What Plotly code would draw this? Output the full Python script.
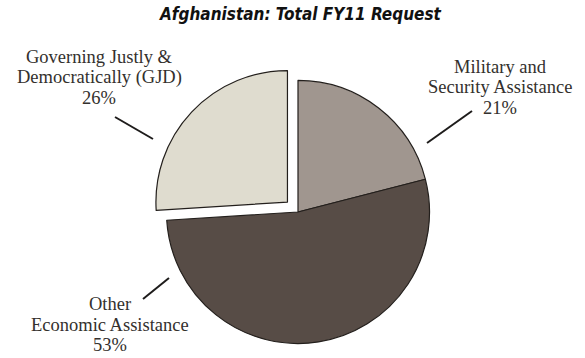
import plotly.graph_objects as go

W, H = 585, 358

# Budget breakdown
categories = ["Military and<br>Security Assistance",
              "Other<br>Economic Assistance",
              "Governing Justly &<br>Democratically (GJD)"]
shares = [21, 53, 26]
colors = ["#a0968f", "#574c46", "#dfdccf"]
pulls = [0, 0, 0.11]


def px(x, y):
    """Pixel position -> paper coordinates."""
    return x / W, 1 - y / H


fig = go.Figure()
fig.add_trace(go.Pie(
    labels=categories,
    values=shares,
    sort=False,
    direction="clockwise",
    rotation=0,
    pull=pulls,
    marker=dict(colors=colors, line=dict(color="#231f1c", width=1.2)),
    textinfo="none",
    hoverinfo="label+percent",
    showlegend=False,
    domain=dict(x=[18 / W, 578 / W], y=[0, 292 / H]),
))

label_font = dict(family="Liberation Serif, Times New Roman, serif", size=18.5, color="#33302d")
LINE_GAP = 20.5

# outside labels: centre x, first-line y, leader line (from, to)
label_layout = [
    (500, 67, (472, 111), (427, 143)),
    (110, 304, (169, 278), (143, 299)),
    (99, 57, (115, 117), (153, 139)),
]
for name, share, (lx, ly, p0, p1) in zip(categories, shares, label_layout):
    lines = name.split("<br>") + [f"{share}%"]
    for i, line in enumerate(lines):
        x, y = px(lx, ly + i * LINE_GAP)
        fig.add_annotation(
            x=x, y=y, xref="paper", yref="paper",
            text=line,
            showarrow=False, align="center",
            xanchor="center", yanchor="middle",
            font=label_font,
        )
    x0, y0 = px(*p0)
    x1, y1 = px(*p1)
    fig.add_shape(type="line", xref="paper", yref="paper",
                  x0=x0, y0=y0, x1=x1, y1=y1,
                  line=dict(color="#1e1c1b", width=2))

tx, ty = px(301, 14)
fig.add_annotation(
    x=tx, y=ty, xref="paper", yref="paper",
    text="<b><i>Afghanistan: Total FY11 Request</i></b>",
    showarrow=False, xanchor="center", yanchor="middle",
    font=dict(family="DejaVu Sans Condensed, DejaVu Sans, sans-serif",
              size=17, color="#111111"),
)

fig.update_layout(
    width=W, height=H,
    margin=dict(l=0, r=0, t=0, b=0),
    paper_bgcolor="white",
    plot_bgcolor="white",
)

fig.write_html("out.html")
